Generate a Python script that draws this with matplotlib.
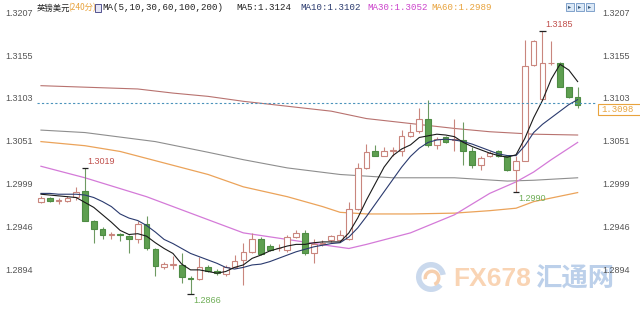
import matplotlib
matplotlib.use("Agg")
import matplotlib.pyplot as plt
from matplotlib.patches import Rectangle, Wedge
from matplotlib.transforms import blended_transform_factory

# 240分 K线数据
opens = [1.2977, 1.2983, 1.2979, 1.2979, 1.2984, 1.2991, 1.2955, 1.2945, 1.2937, 1.2939,
         1.2936, 1.2932, 1.2951, 1.2920, 1.2898, 1.2901, 1.2901, 1.2885, 1.2884, 1.2899,
         1.2894, 1.2890, 1.2899, 1.2907, 1.2917, 1.2932, 1.2924, 1.2921, 1.2919, 1.2935,
         1.2940, 1.2915, 1.2927, 1.2931, 1.2931, 1.2932, 1.2969, 1.3019, 1.3039, 1.3034,
         1.3039, 1.3040, 1.3058, 1.3064, 1.3079, 1.3047, 1.3056, 1.3053, 1.3053, 1.3039,
         1.3022, 1.3033, 1.3039, 1.3033, 1.3017, 1.3028, 1.3144, 1.3103, 1.3146, 1.3146,
         1.3117, 1.3105]
highs = [1.2985, 1.2984, 1.2982, 1.2985, 1.2996, 1.3019, 1.2956, 1.2947, 1.2941, 1.2940,
         1.2938, 1.2954, 1.2961, 1.2921, 1.2905, 1.2912, 1.2915, 1.2887, 1.2911, 1.2901,
         1.2896, 1.2901, 1.2913, 1.2928, 1.2940, 1.2935, 1.2926, 1.2926, 1.2938, 1.2944,
         1.2944, 1.2932, 1.2931, 1.2938, 1.2944, 1.2978, 1.3025, 1.3048, 1.3047, 1.3045,
         1.3045, 1.3065, 1.3073, 1.3092, 1.3102, 1.3057, 1.3058, 1.3079, 1.3075, 1.3045,
         1.3033, 1.3040, 1.3041, 1.3035, 1.3033, 1.3175, 1.3175, 1.3185, 1.3173, 1.3148,
         1.3118, 1.3117]
lows = [1.2976, 1.2978, 1.2975, 1.2978, 1.2980, 1.2954, 1.2928, 1.2933, 1.2932, 1.2930,
        1.2915, 1.2928, 1.2919, 1.2888, 1.2896, 1.2896, 1.2879, 1.2866, 1.2883, 1.2892,
        1.2889, 1.2888, 1.2897, 1.2876, 1.2915, 1.2913, 1.2918, 1.2918, 1.2917, 1.2934,
        1.2913, 1.2903, 1.2924, 1.2929, 1.2930, 1.2931, 1.2968, 1.3018, 1.3033, 1.3033,
        1.3033, 1.3034, 1.3057, 1.3061, 1.3045, 1.3042, 1.3049, 1.3039, 1.3023, 1.3019,
        1.3017, 1.3032, 1.3032, 1.3015, 1.2990, 1.3027, 1.3143, 1.3102, 1.3144, 1.3117,
        1.3104, 1.3092]
closes = [1.2983, 1.2979, 1.2980, 1.2983, 1.2990, 1.2955, 1.2945, 1.2937, 1.2939, 1.2937,
          1.2932, 1.2951, 1.2921, 1.2900, 1.2902, 1.2902, 1.2886, 1.2884, 1.2899, 1.2894,
          1.2891, 1.2898, 1.2906, 1.2917, 1.2932, 1.2914, 1.2919, 1.2922, 1.2935, 1.2940,
          1.2915, 1.2927, 1.2928, 1.2936, 1.2938, 1.2969, 1.3019, 1.3038, 1.3034, 1.3039,
          1.3041, 1.3058, 1.3063, 1.3079, 1.3047, 1.3054, 1.3051, 1.3054, 1.3040, 1.3022,
          1.3031, 1.3037, 1.3033, 1.3017, 1.3028, 1.3143, 1.3173, 1.3146, 1.3147, 1.3118,
          1.3105, 1.3096]

ma5 = [1.2987, 1.2986, 1.2985, 1.2984, 1.2983, 1.2977, 1.2971, 1.2962, 1.2953, 1.2943,
       1.2938, 1.2939, 1.2936, 1.2928, 1.2921, 1.2915, 1.2902, 1.2895, 1.2895, 1.2893,
       1.2891, 1.2893, 1.2898, 1.2901, 1.2909, 1.2913, 1.2918, 1.2921, 1.2924, 1.2926,
       1.2926, 1.2928, 1.2929, 1.2929, 1.2929, 1.2940, 1.2958, 1.2980, 1.3000, 1.3020,
       1.3034, 1.3042, 1.3047, 1.3056, 1.3058, 1.3060, 1.3059, 1.3057, 1.3050, 1.3045,
       1.3041, 1.3037, 1.3034, 1.3032, 1.3035, 1.3055, 1.3080, 1.3101, 1.3127, 1.3145,
       1.3138, 1.3124]
ma10 = [1.2988, 1.2988, 1.2987, 1.2987, 1.2987, 1.2986, 1.2983, 1.2978, 1.2972, 1.2963,
        1.2958, 1.2955, 1.2949, 1.2941, 1.2932, 1.2927, 1.2921, 1.2915, 1.2911, 1.2907,
        1.2903, 1.2898, 1.2896, 1.2898, 1.2901, 1.2902, 1.2905, 1.2909, 1.2913, 1.2917,
        1.2920, 1.2923, 1.2925, 1.2927, 1.2928, 1.2935, 1.2946, 1.2960, 1.2975, 1.2990,
        1.3005, 1.3020, 1.3033, 1.3043, 1.3050, 1.3053, 1.3054, 1.3053, 1.3051, 1.3048,
        1.3044, 1.3040, 1.3036, 1.3034, 1.3034, 1.3046, 1.3062, 1.3072, 1.3080, 1.3088,
        1.3096, 1.3102]

# 长周期均线，按K线序号取点
ma30_idx = [1, 6, 13, 20, 24, 29, 34, 36, 38, 43, 48, 52, 55, 57, 59, 62]
ma30 = [1.3021, 1.3007, 1.2984, 1.2956, 1.2940, 1.2932, 1.2924, 1.2921, 1.2926, 1.2940,
        1.2962, 1.2988, 1.3002, 1.3014, 1.3029, 1.3050]
ma60_idx = [1, 6, 10, 15, 20, 24, 29, 33, 35, 38, 43, 48, 52, 55, 57, 62]
ma60 = [1.3051, 1.3046, 1.3039, 1.3025, 1.3011, 1.2996, 1.2984, 1.2972, 1.2965, 1.2963,
        1.2963, 1.2964, 1.2967, 1.2970, 1.2978, 1.2989]
ma100_idx = [1, 6, 14, 20, 24, 29, 35, 41, 48, 54, 57, 62]
ma100 = [1.3065, 1.3062, 1.3051, 1.3038, 1.3029, 1.3019, 1.3011, 1.3007, 1.3007, 1.3003,
         1.3004, 1.3007]
ma200_idx = [1, 12, 16, 20, 24, 29, 34, 38, 43, 48, 52, 57, 62]
ma200 = [1.3119, 1.3115, 1.3110, 1.3106, 1.3100, 1.3094, 1.3088, 1.3079, 1.3073, 1.3067,
         1.3063, 1.3060, 1.3059]

yticks = [1.3207, 1.3155, 1.3103, 1.3051, 1.2999, 1.2946, 1.2894]
last_price = 1.3098

UP_EDGE = '#c9867e'
DOWN_FILL = '#5e9f50'
DOWN_EDGE = '#4e8c44'

plt.rcParams['font.family'] = ['Liberation Sans', 'Noto Sans CJK SC', 'DejaVu Sans']

W, H = 640, 310
fig = plt.figure(figsize=(W / 100, H / 100), dpi=100)

# 水印放在像素坐标的底层坐标系里
wm = fig.add_axes([0, 0, 1, 1], zorder=0)
wm.set_xlim(0, W)
wm.set_ylim(H, 0)
wm.axis('off')
wm.add_patch(Wedge((431, 277), 15, 40, 350, width=5.5, facecolor='#cad9ed', edgecolor='none'))
wm.add_patch(Wedge((432, 278), 8.5, 170, 70, width=3.5, facecolor='#f6cfae', edgecolor='none'))
wm.text(453, 279, 'FX678', color='#f9d4b4', fontsize=19, fontweight='bold',
        ha='left', va='center')
wm.text(535, 279, '汇通网', color='#bcd0ea', fontsize=19, fontweight='bold',
        ha='left', va='center', family=['Noto Sans CJK SC', 'DejaVu Sans'])

ax = fig.add_axes([37 / W, 0, 560 / W, 1], zorder=1)
ax.set_xlim(0.55, 64.2)
ax.set_ylim(1.28462, 1.32232)
ax.axis('off')
ax.patch.set_alpha(0)

x = list(range(1, len(closes) + 1))

# K线
for i, o, h, l, c in zip(x, opens, highs, lows, closes):
    up = c >= o
    ax.vlines(i, l, h, color=UP_EDGE if up else '#6e9a62', lw=0.8, zorder=2)
    body = max(abs(c - o), 0.00005)
    ax.bar(i, body, bottom=min(o, c), width=0.64,
           facecolor='white' if up else DOWN_FILL,
           edgecolor=UP_EDGE if up else DOWN_EDGE, lw=0.8, zorder=3)

# 均线
ax.plot(ma200_idx, ma200, color='#b8726f', lw=0.8, zorder=1)
ax.plot(ma100_idx, ma100, color='#8e8e8e', lw=0.8, zorder=1)
ax.plot(ma60_idx, ma60, color='#eba35a', lw=0.9, zorder=1)
ax.plot(ma30_idx, ma30, color='#d47ad8', lw=0.9, zorder=1)
ax.plot(x, ma10, color='#2a3a6e', lw=0.8, zorder=4)
ax.plot(x, ma5, color='#1a1a1a', lw=0.8, zorder=4)

# 最新价虚线
ax.axhline(last_price, color='#4b93bb', lw=0.8, ls=(0, (2, 2)), zorder=5)

# 最高/最低标注
def mark(i, price, txt, color, above):
    ax.hlines(price, i - 0.35, i + 0.35, color='#222222', lw=0.9, zorder=5)
    off = 0.00025 if above else -0.00025
    ax.text(i + 0.3, price + off, txt, color=color, fontsize=6.5,
            va='bottom' if above else 'top', ha='left', zorder=6)

mark(6, 1.3019, '1.3019', '#c0504d', True)
mark(58, 1.3185, '1.3185', '#c0504d', True)
mark(18, 1.2866, '1.2866', '#6fae57', False)
mark(55, 1.2990, '1.2990', '#6fae57', False)

# 左右坐标
tr = blended_transform_factory(fig.transFigure, ax.transData)
for v in yticks:
    ax.text(5 / W, v, f'{v:.4f}', transform=tr, fontsize=6.5, color='#555555',
            ha='left', va='center')
    ax.text(602 / W, v, f'{v:.4f}', transform=tr, fontsize=6.5, color='#555555',
            ha='left', va='center', zorder=7)

# 最新价框（在虚线下方）
fig.patches.append(Rectangle((598 / W, 1 - 115 / H), 50 / W, 11 / H, transform=fig.transFigure,
                             facecolor='white', edgecolor='#e8a33d', lw=0.8, zorder=6))
fig.text(601 / W, 1 - 109.5 / H, f'{last_price:.4f}', fontsize=6.5, color='#e8a33d',
         family='Liberation Mono', ha='left', va='center', zorder=7)

# 标题栏
def ftext(px, py, s, color, **kw):
    fig.text(px / W, 1 - py / H, s, color=color, va='center', ha='left', **kw)

ftext(37, 8, '英镑美元', '#222222', fontsize=6, family=['Noto Sans CJK SC', 'DejaVu Sans'])
ftext(68, 8, '(240分)', '#e8a33d', fontsize=6, family=['Noto Sans CJK SC', 'DejaVu Sans'])
fig.patches.append(Rectangle((95 / W, 1 - 12 / H), 6 / W, 8 / H, transform=fig.transFigure,
                             facecolor='#e6e6f5', edgecolor='#3b3b80', lw=0.6))
ftext(102, 8, 'MA(5,10,30,60,100,200)', '#222222', fontsize=6.6, family='Liberation Mono')
ftext(236, 8, 'MA5:1.3124', '#222222', fontsize=6.6, family='Liberation Mono')
ftext(300, 8, 'MA10:1.3102', '#2a3a6e', fontsize=6.6, family='Liberation Mono')
ftext(367, 8, 'MA30:1.3052', '#cc44cc', fontsize=6.6, family='Liberation Mono')
ftext(431, 8, 'MA60:1.2989', '#e8a33d', fontsize=6.6, family='Liberation Mono')

# 右上角按钮
for k in range(3):
    bx = 566 + k * 10
    fig.patches.append(Rectangle((bx / W, 1 - 11 / H), 8 / W, 8 / H, transform=fig.transFigure,
                                 facecolor='#dbe8f6', edgecolor='#6f95c4', lw=0.6))
    fig.text((bx + 4) / W, 1 - 7 / H, '▸', fontsize=4.5, color='#335577',
             ha='center', va='center', family='DejaVu Sans')

fig.savefig('out.png', dpi=100)
